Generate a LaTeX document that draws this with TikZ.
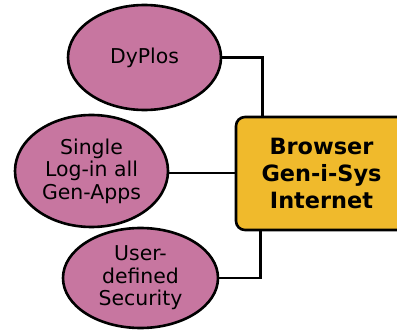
\documentclass[tikz,border=0pt]{standalone}
\usepackage{fontspec}
\setmainfont{DejaVu Sans}
\usetikzlibrary{shapes, positioning}
\definecolor{bubblepink}{RGB}{199,118,160}
\definecolor{hubgold}{RGB}{240,186,44}
\tikzset{
    bubble/.style={ellipse, draw, line width=2.6bp, fill=bubblepink, inner sep=0pt,
        align=center, font=\fontsize{20.5}{22.5}\selectfont},
    hub/.style={rectangle, draw, line width=2.6bp, fill=hubgold, rounded corners=9bp,
        align=center, font=\fontsize{22.5}{27}\selectfont\bfseries,
        minimum width=171bp, minimum height=113bp},
    link/.style={line width=2.6bp}
}

\begin{document}
\begin{tikzpicture}[x=1bp, y=1bp]
        \useasboundingbox (0, 0) rectangle (397, 331);

        \node[hub] (browser) at (321.5, 157.5) {Browser\\Gen-i-Sys\\Internet};
        \node[bubble, minimum width=153bp, minimum height=105bp] (dyplos) at (144.5, 273.5) {DyPlos};
        \node[bubble, minimum width=153bp, minimum height=112bp] (login) at (91.5, 160) {Single\\Log-in all\\Gen-Apps};
        \node[bubble, minimum width=155bp, minimum height=100bp] (security) at (140.5, 53) {User-\\defined\\Security};

        \draw[link] (dyplos.east) -| ([xshift=28bp]browser.north west)
            (login.east |- 0, 158) -- (browser.west |- 0, 158)
            (security.east) -| ([xshift=26bp]browser.south west);
\end{tikzpicture}
\end{document}
